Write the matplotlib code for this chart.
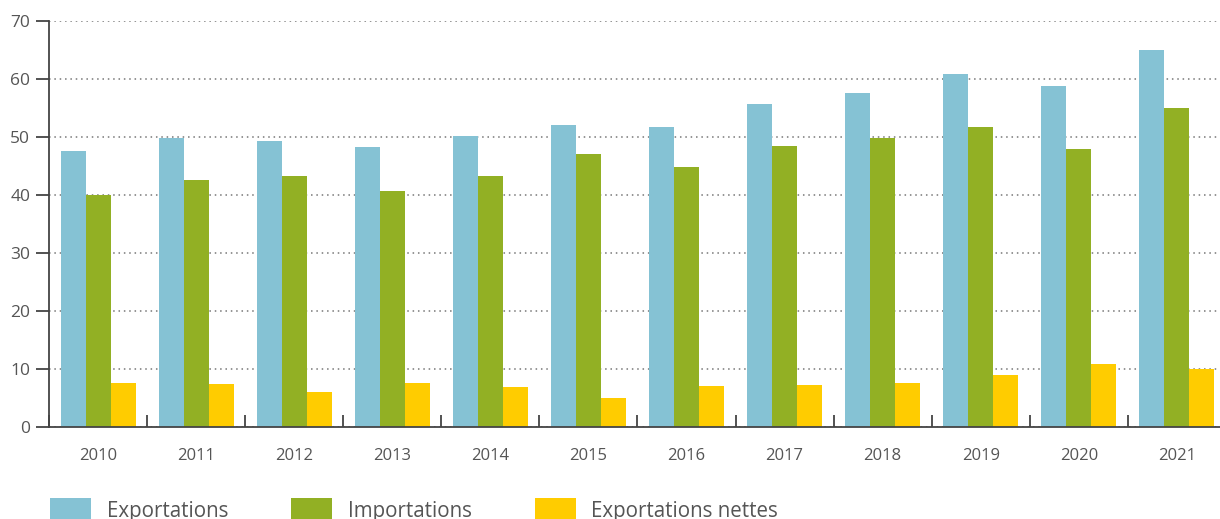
import numpy as np
import matplotlib
matplotlib.use("Agg")
import matplotlib.pyplot as plt
from matplotlib.patches import Patch

plt.rcParams['font.family'] = ['Open Sans', 'DejaVu Sans']

# data
years = ['2010', '2011', '2012', '2013', '2014', '2015',
         '2016', '2017', '2018', '2019', '2020', '2021']
exportations = [47.6, 49.9, 49.3, 48.3, 50.2, 52.1, 51.7, 55.7, 57.6, 60.9, 58.8, 65.0]
importations = [40.0, 42.6, 43.3, 40.7, 43.3, 47.1, 44.8, 48.4, 49.8, 51.7, 47.9, 55.0]
nettes = [7.6, 7.4, 6.0, 7.6, 6.9, 5.0, 7.1, 7.2, 7.6, 9.0, 10.9, 10.0]
series_names = ['Exportations', 'Importations', 'Exportations nettes']
colors = ['#85c2d4', '#92b024', '#ffcc00']

TXT = '#555555'
AXC = '#444444'

W, H = 1220, 519
fig = plt.figure(figsize=(W / 100, H / 100), dpi=100)
ax = fig.add_axes([49 / W, (H - 427) / H, (W - 49) / W, 406 / H])

x = np.arange(len(years))
bw = 0.255
for k, vals in enumerate([exportations, importations, nettes]):
    ax.bar(x + (k - 1) * bw, vals, width=bw, color=colors[k], zorder=2)

ax.set_xlim(-0.5, 11.44)
ax.set_ylim(0, 70)
ax.set_yticks(np.arange(0, 71, 10))
ax.yaxis.grid(True, linestyle=(0, (1, 2.5)), color='#777777', linewidth=1.1, zorder=0)
ax.set_axisbelow(True)

ax.set_xticks(x)
ax.set_xticklabels(years)
ax.set_xticks(np.arange(-0.5, 11.5, 1), minor=True)
ax.tick_params(axis='x', which='major', length=0, pad=15, labelsize=12, labelcolor=TXT)
ax.tick_params(axis='x', which='minor', direction='in', length=9, width=1.3, color=AXC)
ax.tick_params(axis='y', direction='out', length=9.5, width=1.3, color=AXC,
               pad=4, labelsize=12.5, labelcolor=TXT)

for s in ['top', 'right']:
    ax.spines[s].set_visible(False)
for s in ['left', 'bottom']:
    ax.spines[s].set_color(AXC)
    ax.spines[s].set_linewidth(1.3)

# legend sits at the bottom edge and is clipped, as in the original
handles = [Patch(facecolor=c, edgecolor='none') for c in colors]
fig.legend(handles, series_names, loc='upper left', bbox_to_anchor=(42 / W, 1 - 490 / H),
           ncol=3, frameon=False, fontsize=14.8, handlelength=2.0, handleheight=1.4,
           handletextpad=0.75, columnspacing=3.07, labelcolor=TXT, borderaxespad=0)

fig.savefig('out.png', dpi=100)
